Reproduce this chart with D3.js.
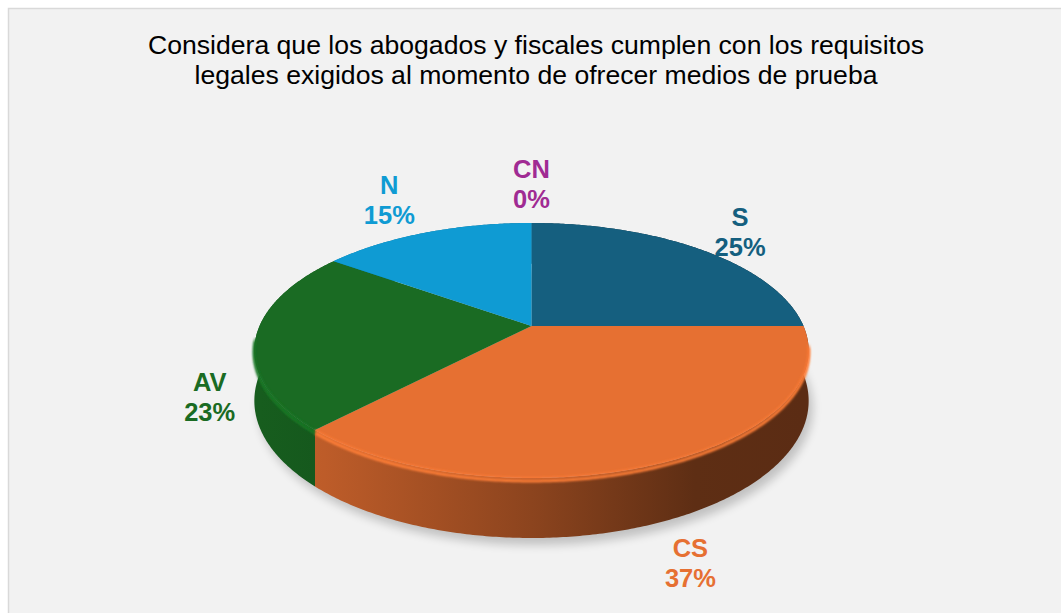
<!DOCTYPE html>
<html>
<head>
<meta charset="utf-8">
<script src="https://cdn.jsdelivr.net/npm/d3@7"></script>
<style>
  body { margin: 0; background: #fff; }
  svg { display: block; }
</style>
</head>
<body>
<svg></svg>
<script>
let categories = ['S', 'CS', 'AV', 'N', 'CN'];
let values = [25, 37, 23, 15, 0];
let colors = ['#155f7f', '#e67032', '#1a6b23', '#0f9bd3', '#a02b93'];
let titleLines = [
  'Considera que los abogados y fiscales cumplen con los requisitos',
  'legales exigidos al momento de ofrecer medios de prueba'
];

let w = 1061;
let h = 613;

// perspective disc: centre, radius, tilt
let cx = 531.5;
let cy = 326;
let rx = 272;
let ry = -60.2;
let persp = 0.192;
let depth = 48.5;

let svg = d3.select('svg').attr('width', w).attr('height', h);
let defs = svg.append('defs');

svg.append('rect')
  .attr('x', 8.5).attr('y', 8.5)
  .attr('width', w).attr('height', h)
  .attr('fill', '#f2f2f2')
  .attr('stroke', '#d9d9d9')
  .attr('stroke-width', 1.5);

svg.selectAll('text.title')
  .data(titleLines)
  .enter()
  .append('text')
  .attr('class', 'title')
  .attr('x', 536)
  .attr('y', (d, i) => 54 + i * 30)
  .attr('text-anchor', 'middle')
  .attr('font-family', 'Liberation Sans, Arial, sans-serif')
  .attr('font-size', 26.6)
  .attr('fill', '#000')
  .text(d => d);

let pie = d3.pie().sort(null).value(d => d)(values);

// theta: 0 at top (back), clockwise; r in disc units; z 0 = top face, 1 = bottom
let proj = (theta, r, z) => {
  let u = Math.sin(theta) * r;
  let v = Math.cos(theta) * r;
  let k = 1 + persp * v;
  return [cx + rx * u / k, (cy + ry * v) / k + z * depth / k];
};

let edge = (a0, a1, z) => {
  let n = Math.max(2, Math.ceil((a1 - a0) / 0.01));
  return d3.range(n + 1).map(i => proj(a0 + (a1 - a0) * i / n, 1, z));
};

let line = d3.line();

defs.append('filter').attr('id', 'shadow')
  .attr('x', '-20%').attr('y', '-20%').attr('width', '140%').attr('height', '140%')
  .append('feGaussianBlur').attr('stdDeviation', 5);
defs.append('filter').attr('id', 'soft')
  .append('feGaussianBlur').attr('stdDeviation', 1.2);

// shadow under the pie
svg.append('path')
  .attr('d', line(edge(0, 2 * Math.PI, 1)) + 'Z')
  .attr('transform', 'translate(4,7)')
  .attr('fill', '#000')
  .attr('opacity', 0.2)
  .attr('filter', 'url(#shadow)');

// side gradients
pie.forEach((s, i) => {
  let c = d3.color(colors[i]);
  let g = defs.append('linearGradient')
    .attr('id', 'side' + i)
    .attr('gradientUnits', 'userSpaceOnUse')
    .attr('x1', cx - rx).attr('x2', cx + rx)
    .attr('y1', 0).attr('y2', 0);
  [[0, 0.4], [0.12, 0.55], [0.5, 1.4], [0.8, 2.5], [1, 2.6]].forEach(st => {
    g.append('stop').attr('offset', st[0]).attr('stop-color', c.darker(st[1]).formatHex());
  });
});

let slices = pie.filter(s => s.endAngle > s.startAngle);

// walls
svg.selectAll('path.wall')
  .data(slices)
  .enter()
  .append('path')
  .attr('class', 'wall')
  .attr('d', s => {
    let top = edge(s.startAngle, s.endAngle, 0);
    let bot = edge(s.startAngle, s.endAngle, 1).reverse();
    return line(top.concat(bot)) + 'Z';
  })
  .attr('fill', s => 'url(#side' + s.index + ')');

// bevel highlight on front rim
let front0 = Math.PI / 2 + 0.15;
let front1 = 3 * Math.PI / 2 - 0.1;
let frontSlices = slices.filter(s => s.endAngle > front0 && s.startAngle < front1);

svg.selectAll('path.rim')
  .data(frontSlices)
  .enter()
  .append('path')
  .attr('class', 'rim')
  .attr('d', s => line(edge(Math.max(s.startAngle, front0), Math.min(s.endAngle, front1), 0.05)))
  .attr('fill', 'none')
  .attr('stroke', s => d3.color(colors[s.index]).brighter(0.35).formatHex())
  .attr('stroke-width', 3)
  .attr('filter', 'url(#soft)');

// top faces
svg.selectAll('path.top')
  .data(slices)
  .enter()
  .append('path')
  .attr('class', 'top')
  .attr('d', s => line([proj(0, 0, 0)].concat(edge(s.startAngle, s.endAngle, 0))) + 'Z')
  .attr('fill', s => colors[s.index]);

svg.selectAll('path.rimin')
  .data(frontSlices)
  .enter()
  .append('path')
  .attr('class', 'rimin')
  .attr('d', s => line(edge(Math.max(s.startAngle, front0), Math.min(s.endAngle, front1), 0)))
  .attr('fill', 'none')
  .attr('stroke', s => d3.color(colors[s.index]).brighter(0.3).formatHex())
  .attr('stroke-width', 2)
  .attr('stroke-opacity', 0.8)
  .attr('filter', 'url(#soft)');

// labels, placed just outside the slice's outer edge
let lineGap = 30;
let capH = 18;
let gap = 15;
let centre = proj(0, 0, 0);

pie.forEach((s, i) => {
  let mid = (s.startAngle + s.endAngle) / 2;
  let front = Math.cos(mid) < 0;
  let anchor = proj(mid, 1, front ? 1 : 0);
  let dx = anchor[0] - centre[0];
  let dy = anchor[1] - centre[1];
  let len = Math.hypot(dx, dy);
  dx /= len; dy /= len;

  let g = svg.append('g')
    .attr('font-family', 'Liberation Sans, Arial, sans-serif')
    .attr('font-size', 25.5)
    .attr('font-weight', 'bold')
    .attr('fill', colors[i])
    .attr('text-anchor', 'middle');
  let t1 = g.append('text').text(categories[i]);
  let t2 = g.append('text').attr('y', lineGap).text(Math.round(s.value / d3.sum(values) * 100) + '%');
  let bw = Math.max(t1.node().getComputedTextLength(), t2.node().getComputedTextLength());
  let bh = capH + lineGap;
  let tx = Math.abs(dx) > 1e-6 ? (bw / 2) / Math.abs(dx) : Infinity;
  let ty = Math.abs(dy) > 1e-6 ? (bh / 2) / Math.abs(dy) : Infinity;
  let t = Math.min(tx, ty) + gap + (front ? 6 : 0);
  let px = anchor[0] + dx * t;
  let py = anchor[1] + dy * t;
  g.attr('transform', 'translate(' + px + ',' + (py - bh / 2 + capH) + ')');
});
</script>
</body>
</html>
